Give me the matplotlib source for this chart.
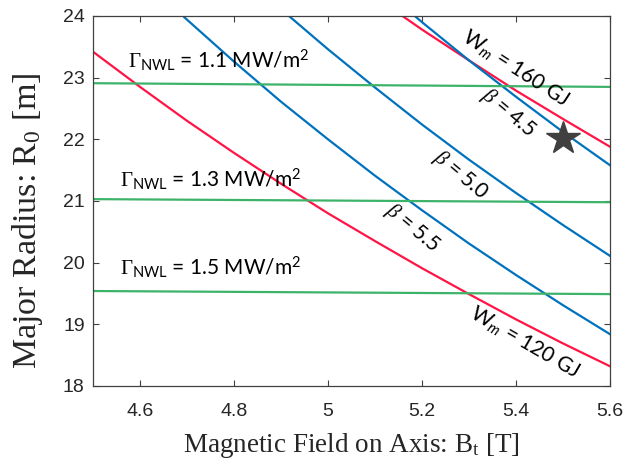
import matplotlib
matplotlib.use('Agg')
import matplotlib.pyplot as plt

# field on axis [T]
b_field = [4.5, 4.6, 4.7, 4.8, 4.9, 5.0, 5.1, 5.2, 5.3, 5.4, 5.5, 5.6]

# stored magnetic energy contours
wm_120 = [23.42, 22.85, 22.30, 21.78, 21.28, 20.80, 20.35, 19.91, 19.49, 19.08, 18.69, 18.32]
b_wm_160 = [5.1, 5.2, 5.3, 5.4, 5.5, 5.6]
wm_160 = [24.31, 23.78, 23.28, 22.79, 22.33, 21.88]

# beta contours
b_beta_55 = [4.6, 4.7, 4.8, 4.9, 5.0, 5.1, 5.2, 5.3, 5.4, 5.5, 5.6]
beta_55 = [24.65, 23.94, 23.26, 22.61, 22.00, 21.41, 20.85, 20.31, 19.80, 19.31, 18.84]
b_beta_50 = [4.9, 5.0, 5.1, 5.2, 5.3, 5.4, 5.5, 5.6]
beta_50 = [24.11, 23.46, 22.84, 22.24, 21.67, 21.13, 20.61, 20.11]
b_beta_45 = [5.1, 5.2, 5.3, 5.4, 5.5, 5.6]
beta_45 = [24.55, 23.90, 23.28, 22.69, 22.12, 21.58]

# neutron wall load contours
b_nwl = [4.5, 5.6]
nwl_11 = [22.91, 22.85]
nwl_13 = [21.03, 20.98]
nwl_15 = [19.54, 19.49]

# design point
star_b = [5.5]
star_r = [22.02]

plt.rcParams['mathtext.fontset'] = 'custom'
plt.rcParams['mathtext.rm'] = 'Liberation Serif'
plt.rcParams['mathtext.it'] = 'Liberation Serif:italic'
plt.rcParams['mathtext.sf'] = 'Lato'
plt.rcParams['mathtext.bf'] = 'Lato:italic'

red = '#FF1446'
blue = '#0072BD'
green = '#3DB36A'

fig = plt.figure(figsize=(6.26, 4.66), dpi=100)
ax = fig.add_axes([0.1486, 0.1717, 0.8258, 0.794])

ax.plot(b_field, wm_120, color=red, lw=1.6)
ax.plot(b_wm_160, wm_160, color=red, lw=1.6)
ax.plot(b_beta_55, beta_55, color=blue, lw=1.6)
ax.plot(b_beta_50, beta_50, color=blue, lw=1.6)
ax.plot(b_beta_45, beta_45, color=blue, lw=1.6)
ax.plot(b_nwl, nwl_11, color=green, lw=1.6)
ax.plot(b_nwl, nwl_13, color=green, lw=1.6)
ax.plot(b_nwl, nwl_15, color=green, lw=1.6)
ax.plot(star_b, star_r, marker='*', color='#404040', ms=25, ls='none')

ax.set_xlim(4.5, 5.6)
ax.set_ylim(18, 24)
ax.set_xticks([4.6, 4.8, 5.0, 5.2, 5.4, 5.6])
ax.set_xticklabels(['4.6', '4.8', '5', '5.2', '5.4', '5.6'])
ax.set_yticks([18, 19, 20, 21, 22, 23, 24])
ax.tick_params(direction='in', top=True, right=True, length=4, width=0.8,
               color='#404040', labelcolor='#262626', labelsize=14,
               labelfontfamily='Liberation Sans')
ax.tick_params(axis='x', pad=12)
ax.tick_params(axis='y', pad=6)
for sp in ax.spines.values():
    sp.set_color('#404040')
    sp.set_linewidth(0.9)

ax.set_xlabel(r'Magnetic Field on Axis: B$_\mathrm{t}$ [T]', family='Liberation Serif',
              fontsize=19.5, color='#262626')
ax.set_ylabel(r'Major Radius: R$_\mathrm{0}$ [m]', family='Liberation Serif',
              fontsize=24.5, color='#262626')
ax.xaxis.set_label_coords(0.5, -0.121)
ax.yaxis.set_label_coords(-0.093, 0.447)

# contour labels
txt = dict(family='Lato', fontsize=15, color='black')
ax.text(4.5745, 23.17, r'$\Gamma_\mathsf{NWL}$ = 1.1 MW/m$^\mathsf{2}$', va='baseline', **txt)
ax.text(4.557, 21.23, r'$\Gamma_\mathsf{NWL}$ = 1.3 MW/m$^\mathsf{2}$', va='baseline', **txt)
ax.text(4.557, 19.80, r'$\Gamma_\mathsf{NWL}$ = 1.5 MW/m$^\mathsf{2}$', va='baseline', **txt)

ax.text(5.398, 23.16, r'W$_{\mathbf{m}}$ = 160 GJ', rotation=-33, ha='center', va='center',
        rotation_mode='anchor', **txt)
ax.text(5.383, 22.43, r'$\beta$ = 4.5', rotation=-40, ha='center', va='center',
        rotation_mode='anchor', **txt)
ax.text(5.281, 21.42, r'$\beta$ = 5.0', rotation=-40, ha='center', va='center',
        rotation_mode='anchor', **txt)
ax.text(5.179, 20.56, r'$\beta$ = 5.5', rotation=-40, ha='center', va='center',
        rotation_mode='anchor', **txt)
ax.text(5.419, 18.71, r'W$_{\mathbf{m}}$ = 120 GJ', rotation=-30, ha='center', va='center',
        rotation_mode='anchor', **txt)

fig.savefig('out.png', dpi=100)
